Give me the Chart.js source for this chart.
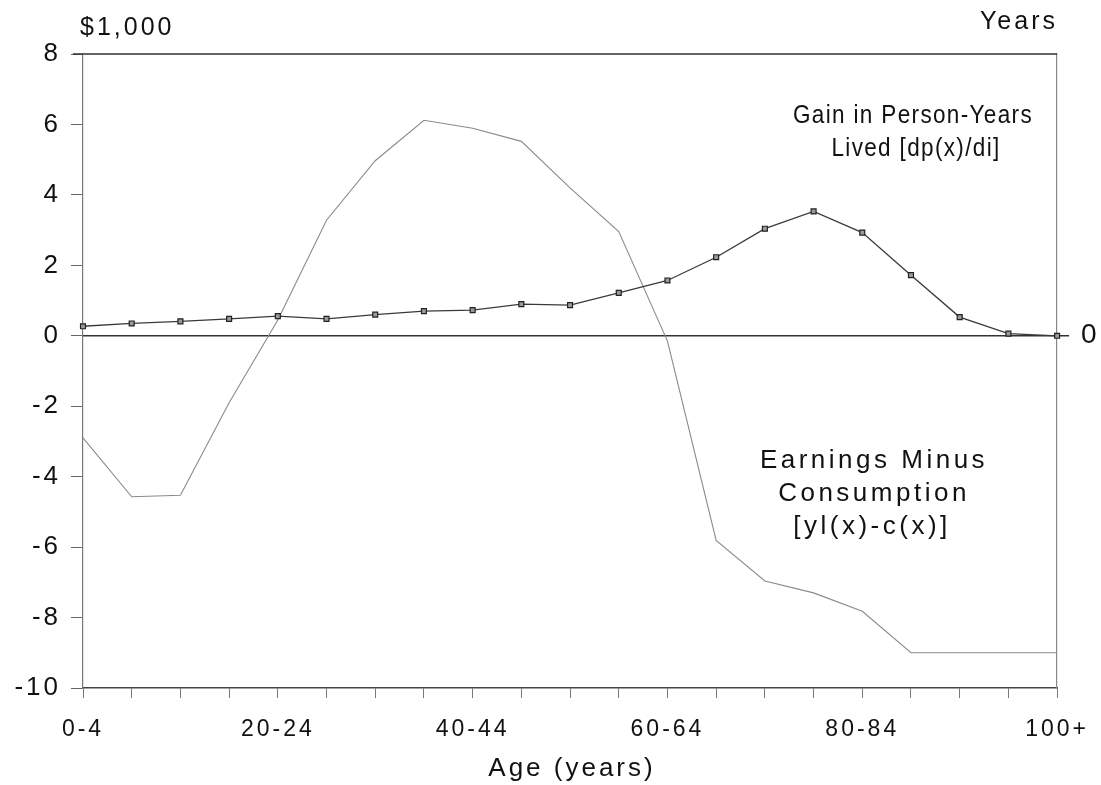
<!DOCTYPE html>
<html>
<head>
<meta charset="utf-8">
<script src="https://cdn.jsdelivr.net/npm/chart.js@4.4.1/dist/chart.umd.min.js"></script>
<style>
  html, body { margin: 0; padding: 0; background: #ffffff; }
  #wrap { width: 1101px; height: 785px; position: relative; }
</style>
</head>
<body>
<div id="wrap"><canvas id="chart" width="1101" height="785"></canvas></div>
<script>
// Age groups along the bottom axis
const ageGroups = ['0-4','5-9','10-14','15-19','20-24','25-29','30-34','35-39','40-44','45-49',
  '50-54','55-59','60-64','65-69','70-74','75-79','80-84','85-89','90-94','95-99','100+'];

// Gain in person-years lived, dp(x)/di (years)
const gainPersonYears = [0.27, 0.35, 0.41, 0.48, 0.56, 0.48, 0.60, 0.70, 0.73, 0.90,
  0.87, 1.22, 1.57, 2.23, 3.04, 3.53, 2.93, 1.72, 0.53, 0.06, 0.00];

// Earnings minus consumption, yl(x)-c(x) ($1,000)
const earningsMinusConsumption = [-2.90, -4.57, -4.53, -1.90, 0.45, 3.28, 4.97, 6.12, 5.89, 5.52,
  4.20, 2.96, -0.15, -5.81, -6.96, -7.30, -7.82, -9.00, -9.00, -9.00, -9.00];

// Left value axis ticks ($1,000)
const leftTicks = [-10, -8, -6, -4, -2, 0, 2, 4, 6, 8];
// Age groups that carry a printed label
const labelledAges = ['0-4', '20-24', '40-44', '60-64', '80-84', '100+'];

const FONT = '"Liberation Sans", Arial, Helvetica, sans-serif';
const INK = '#111111';

// draws a line of text squeezed horizontally by factor sx
function narrowText(ctx, text, cx, cy, sx) {
  ctx.save();
  ctx.translate(cx, cy);
  ctx.scale(sx, 1);
  ctx.textAlign = 'center';
  ctx.fillText(text, 0, 0);
  ctx.restore();
}

const frameAndText = {
  id: 'frameAndText',
  beforeDraw(chart) {
    chart.ctx.letterSpacing = '3px';
  },
  afterDraw(chart) {
    const { ctx, chartArea: a } = chart;
    ctx.save();
    // top frame line
    ctx.strokeStyle = '#333333';
    ctx.lineWidth = 1.5;
    ctx.beginPath();
    ctx.moveTo(a.left - 10, a.top);
    ctx.lineTo(a.right, a.top);
    ctx.stroke();

    ctx.fillStyle = INK;
    ctx.textBaseline = 'middle';

    ctx.letterSpacing = '3px';
    ctx.font = '25px ' + FONT;
    ctx.textAlign = 'left';
    ctx.fillText('$1,000', 80, 28);
    ctx.textAlign = 'right';
    ctx.fillText('Years', 1058, 22);

    // upper series caption, slightly condensed
    ctx.letterSpacing = '1.5px';
    ctx.font = '25px ' + FONT;
    narrowText(ctx, 'Gain in Person-Years', 913, 116, 0.9);
    narrowText(ctx, 'Lived [dp(x)/di]', 916, 149, 0.9);

    // lower series caption
    ctx.letterSpacing = '3.5px';
    ctx.font = '26px ' + FONT;
    ctx.textAlign = 'center';
    ctx.fillText('Earnings Minus', 874, 461);
    ctx.fillText('Consumption', 874, 494);
    ctx.fillText('[yl(x)-c(x)]', 872, 527);

    ctx.letterSpacing = '3px';
    ctx.font = '26px ' + FONT;
    ctx.fillText('Age (years)', 572, 769);
    ctx.restore();
  }
};

new Chart(document.getElementById('chart'), {
  type: 'line',
  data: {
    labels: ageGroups,
    datasets: [
      {
        label: 'Gain in Person-Years Lived [dp(x)/di]',
        data: gainPersonYears,
        borderColor: '#3a3a3a',
        borderWidth: 1.3,
        pointStyle: 'rect',
        pointRadius: 3.5,
        pointBorderWidth: 1.2,
        pointBorderColor: '#222222',
        pointBackgroundColor: '#9a9a9a',
        tension: 0,
        yAxisID: 'y'
      },
      {
        label: 'Earnings Minus Consumption [yl(x)-c(x)]',
        data: earningsMinusConsumption,
        borderColor: '#8a8a8a',
        borderWidth: 1.1,
        pointRadius: 0,
        tension: 0,
        yAxisID: 'y'
      }
    ]
  },
  options: {
    responsive: false,
    animation: false,
    events: [],
    layout: { padding: { top: 54, left: 0, right: 0, bottom: 0 } },
    plugins: { legend: { display: false }, tooltip: { enabled: false }, title: { display: false } },
    scales: {
      x: {
        type: 'category',
        offset: false,
        afterFit(s) { s.height = 97; },
        border: { display: true, color: '#444444', width: 1.5 },
        grid: { drawOnChartArea: false, drawTicks: true, tickLength: 10, color: '#777777', lineWidth: 1 },
        ticks: {
          autoSkip: false, maxRotation: 0, minRotation: 0, padding: 18,
          color: INK, font: { family: FONT, size: 23 },
          callback(v, i) { return labelledAges.includes(ageGroups[i]) ? ageGroups[i] : ''; }
        }
      },
      y: {
        position: 'left',
        min: leftTicks[0],
        max: leftTicks[leftTicks.length - 1],
        afterFit(s) { s.width = 83; },
        afterBuildTicks(s) { s.ticks = leftTicks.map(v => ({ value: v })); },
        border: { display: true, color: '#777777', width: 1.2 },
        grid: { drawOnChartArea: false, tickLength: 12, color: '#666666' },
        ticks: { padding: 10, color: INK, font: { family: FONT, size: 26 } }
      },
      y2: {
        position: 'right',
        min: leftTicks[0],
        max: leftTicks[leftTicks.length - 1],
        afterFit(s) { s.width = 43; },
        afterBuildTicks(s) { s.ticks = leftTicks.map(v => ({ value: v })); },
        border: { display: true, color: '#888888', width: 1.2 },
        grid: {
          drawOnChartArea: true, tickLength: 12, lineWidth: 1.5,
          color(c) { return c.tick && c.tick.value === 0 ? '#333333' : 'rgba(0,0,0,0)'; }
        },
        ticks: {
          padding: 12, color: INK, font: { family: FONT, size: 28 },
          callback(v) { return v === 0 ? '0' : ''; }
        }
      }
    }
  },
  plugins: [frameAndText]
});
</script>
</body>
</html>
